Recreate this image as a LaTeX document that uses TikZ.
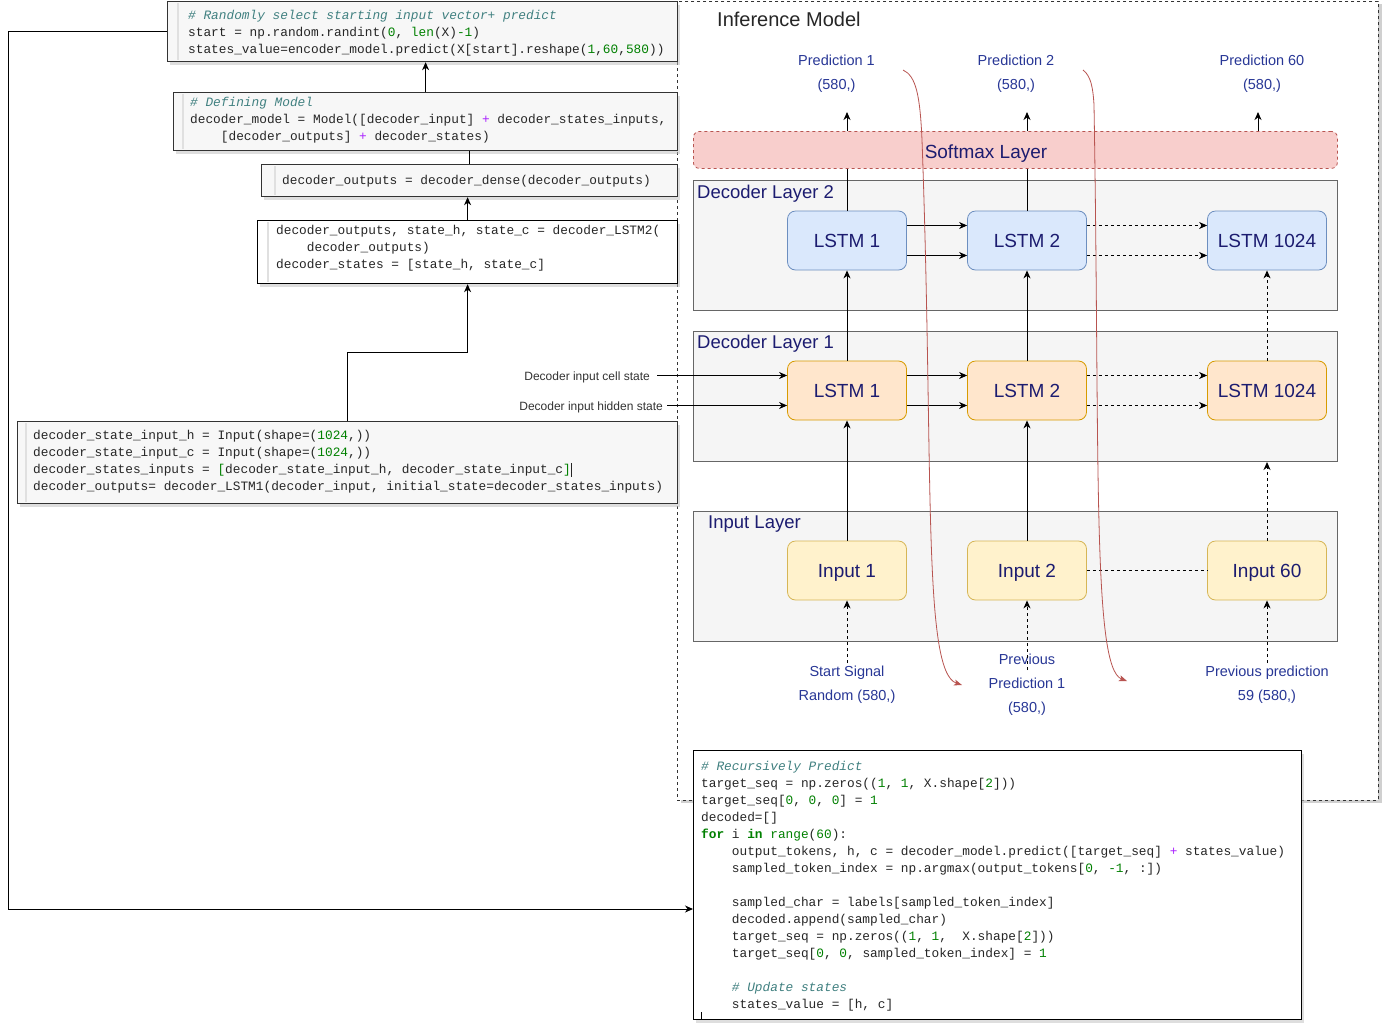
\documentclass[tikz,border=0pt]{standalone}
\usepackage{fontspec}
\setmainfont{Liberation Sans}
\newfontfamily\codefont{Liberation Mono}
\usetikzlibrary{arrows.meta,shadows}
\definecolor{navy}{RGB}{28,28,112}
\definecolor{predblue}{RGB}{40,55,150}
\definecolor{softfill}{HTML}{F8CECC}
\definecolor{softdraw}{HTML}{B85450}
\definecolor{layerfill}{HTML}{F5F5F5}
\definecolor{layerdraw}{HTML}{666666}
\definecolor{bluefill}{HTML}{DAE8FC}
\definecolor{bluedraw}{HTML}{6C8EBF}
\definecolor{orfill}{HTML}{FFE6CC}
\definecolor{ordraw}{HTML}{D79B00}
\definecolor{yelfill}{HTML}{FFF2CC}
\definecolor{yeldraw}{HTML}{D6B656}
\definecolor{cmt}{HTML}{408080}
\definecolor{numc}{HTML}{008000}
\definecolor{opc}{HTML}{AA22FF}
\definecolor{codebg}{HTML}{F7F7F7}
\newcommand\cmnt[1]{\textcolor{cmt}{\itshape #1}}
\newcommand\numc[1]{\textcolor{numc}{#1}}
\newcommand\kwb[1]{\textcolor{numc}{\bfseries #1}}
\newcommand\plusop{\textcolor{opc}{+}}
\newcommand\indt{\phantom{xxxx}}
\tikzset{
 arr/.style={-{Stealth[length=8pt,width=7pt,inset=2.5pt]}, line width=1pt, draw=black},
 plainln/.style={line width=1pt, draw=black},
 dashln/.style={dash pattern=on 3pt off 3pt},
 layerbox/.style={draw=layerdraw, fill=layerfill, line width=1pt, anchor=north west, minimum width=644pt, minimum height=130pt, inner sep=0},
 cell/.style={rounded corners=8pt, line width=0.8pt, minimum width=119pt, minimum height=59pt, inner sep=0, font=\fontsize{19}{22}\selectfont, text=navy, text depth=0pt},
 bcell/.style={cell, draw=bluedraw, fill=bluefill},
 ocell/.style={cell, draw=ordraw, fill=orfill},
 ycell/.style={cell, draw=yeldraw, fill=yelfill},
 laylbl/.style={anchor=base west, inner sep=0, text=navy, font=\fontsize{18.5}{22}\selectfont},
 predlbl/.style={anchor=base, align=center, inner sep=0, text=predblue, font=\fontsize{14.5}{24}\selectfont},
 sidelbl/.style={anchor=base east, inner sep=0, text=black!80, font=\fontsize{12}{14}\selectfont},
 codebox/.style={draw=black!80, line width=1.2pt, anchor=north west, inner sep=0, drop shadow={shadow xshift=2pt, shadow yshift=-3pt, fill=black!25, opacity=0.5}},
 codetxt/.style={anchor=north west, inner sep=0, align=left, font=\codefont\fontsize{12.8}{17}\selectfont, text=black!85},
 gutter/.style={draw=black!12, line width=1.5pt},
 redarr/.style={draw=softdraw, line width=0.8pt, -{Stealth[length=8pt,width=6pt,inset=2pt]}},
}
\begin{document}
\begin{tikzpicture}[x=1pt,y=-1pt]
\fill[white] (0,0) rectangle (1384,1026);
\useasboundingbox (0,0) rectangle (1384,1026);

% Inference model frame
\node[draw=black!80, dashln, line width=0.8pt, fill=white, anchor=north west, minimum width=701pt, minimum height=799pt, inner sep=0, drop shadow={shadow xshift=4pt, shadow yshift=-3pt, fill=black!30, opacity=0.6}] (inf) at (677,1) {};
\node[anchor=base west, inner sep=0, font=\fontsize{20}{24}\selectfont, text=black!85] (inftitle) at (717,26) {Inference Model};

% softmax
\node[draw=softdraw, fill=softfill, dashln, rounded corners=6pt, line width=0.8pt, anchor=north west, minimum width=644pt, minimum height=37pt, inner sep=0] (soft) at (693,131) {};
\node[anchor=base, inner sep=0, text=navy, font=\fontsize{19}{22}\selectfont] (softlbl) at (986,158) {Softmax Layer};

% layers
\node[layerbox] (L2) at (693,180) {};
\node[layerbox] (L1) at (693,331) {};
\node[layerbox] (L0) at (693,511) {};
\node[laylbl] (L2lbl) at (697,198) {Decoder Layer 2};
\node[laylbl] (L1lbl) at (697,348) {Decoder Layer 1};
\node[laylbl] (L0lbl) at (708,528) {Input Layer};

% cells
\node[bcell] (b1) at (847,240.5) {LSTM 1};
\node[bcell] (b2) at (1027,240.5) {LSTM 2};
\node[bcell] (b3) at (1267,240.5) {LSTM 1024};
\node[ocell] (o1) at (847,390.5) {LSTM 1};
\node[ocell] (o2) at (1027,390.5) {LSTM 2};
\node[ocell] (o3) at (1267,390.5) {LSTM 1024};
\node[ycell] (i1) at (847,570.5) {Input 1};
\node[ycell] (i2) at (1027,570.5) {Input 2};
\node[ycell] (i3) at (1267,570.5) {Input 60};

% horizontal connections
\draw[arr] ([yshift=15pt]b1.east) -- ([yshift=15pt]b2.west);
\draw[arr] ([yshift=-15pt]b1.east) -- ([yshift=-15pt]b2.west);
\draw[arr,dashln] ([yshift=15pt]b2.east) -- ([yshift=15pt]b3.west);
\draw[arr,dashln] ([yshift=-15pt]b2.east) -- ([yshift=-15pt]b3.west);
\draw[arr] ([yshift=15pt]o1.east) -- ([yshift=15pt]o2.west);
\draw[arr] ([yshift=-15pt]o1.east) -- ([yshift=-15pt]o2.west);
\draw[arr,dashln] ([yshift=15pt]o2.east) -- ([yshift=15pt]o3.west);
\draw[arr,dashln] ([yshift=-15pt]o2.east) -- ([yshift=-15pt]o3.west);
\draw[plainln,dashln] (i2.east) -- (i3.west);

% vertical connections
\draw[arr] (i1) -- (o1);
\draw[arr] (i2) -- (o2);
\draw[arr,dashln] (i3.north) -- (i3.north |- L1.south);
\draw[arr] (o1) -- (b1);
\draw[arr] (o2) -- (b2);
\draw[arr,dashln] (o3) -- (b3);

% to predictions
\coordinate (t1) at (847,112);
\coordinate (t2) at (1027,112);
\coordinate (t3) at (1258,112);
\draw[plainln] (b1.north) -- (b1.north |- soft.south);
\draw[plainln] (b2.north) -- (b2.north |- soft.south);
\draw[arr] (t1 |- soft.north) -- (t1);
\draw[arr] (t2 |- soft.north) -- (t2);
\draw[arr] (t3 |- soft.north) -- (t3);

\node[predlbl] (p1) at (836.5,89.2) {Prediction 1\\(580,)};
\node[predlbl] (p2) at (1016,89.2) {Prediction 2\\(580,)};
\node[predlbl] (p3) at (1262,89.2) {Prediction 60\\(580,)};

% bottom labels
\node[predlbl] (ss) at (847,700.2) {Start Signal\\Random (580,)};
\node[predlbl] (pp1) at (1027,712.2) {Previous\\Prediction 1\\(580,)};
\node[predlbl] (pp59) at (1267,700.2) {Previous prediction\\59 (580,)};
\coordinate (ssx) at (847,663);
\coordinate (ppx) at (1027,670);
\coordinate (pp59x) at (1267,663);
\draw[arr,dashln] (ssx) -- (i1.south);
\draw[arr,dashln] (ppx) -- (i2.south);
\draw[arr,dashln] (pp59x) -- (i3.south);

% side labels
\node[sidelbl] (cs) at (650,380.3) {Decoder input cell state};
\node[sidelbl] (hs) at (663,410.3) {Decoder input hidden state};
\coordinate (csx) at (657,375.5);
\coordinate (hsx) at (667,405.5);
\draw[arr] (csx) -- (csx -| o1.west);
\draw[arr] (hsx) -- (hsx -| o1.west);

% red feedback curves
\coordinate (r1s) at (903,70);
\coordinate (r1e) at (962,685);
\coordinate (r2s) at (1083,70);
\coordinate (r2e) at (1127,681);
\draw[redarr] (r1s) .. controls (916,76) and (920,95) .. (922,140) .. controls (934,470) and (922,672) .. (r1e);
\draw[redarr] (r2s) .. controls (1091,76) and (1093,88) .. (1094,105) .. controls (1100,460) and (1092,668) .. (r2e);

% code boxes
\node[codebox, fill=codebg, minimum width=510pt, minimum height=60pt] (A) at (167,1) {};
\draw[gutter] ([xshift=11pt,yshift=-2pt]A.north west) -- ([xshift=11pt,yshift=2pt]A.south west);
\node[codetxt] (Atxt) at (188,7.6) {\strut\cmnt{\# Randomly select starting input vector+ predict}\\
start = np.random.randint(\numc{0}, \numc{len}(X)\numc{-1})\\
states\_value=encoder\_model.predict(X[start].reshape(\numc{1},\numc{60},\numc{580}))};

\node[codebox, fill=codebg, minimum width=504pt, minimum height=58pt] (B) at (173,92) {};
\draw[gutter] ([xshift=10pt,yshift=-2pt]B.north west) -- ([xshift=10pt,yshift=2pt]B.south west);
\node[codetxt] (Btxt) at (190,94.6) {\strut\cmnt{\# Defining Model}\\
decoder\_model = Model([decoder\_input] \plusop{} decoder\_states\_inputs,\\
\indt[decoder\_outputs] \plusop{} decoder\_states)};

\node[codebox, fill=codebg, minimum width=416pt, minimum height=32pt] (C) at (261,164) {};
\draw[gutter] ([xshift=14pt,yshift=-2pt]C.north west) -- ([xshift=14pt,yshift=2pt]C.south west);
\node[codetxt] (Ctxt) at (282,172.6) {\strut decoder\_outputs = decoder\_dense(decoder\_outputs)};

\node[codebox, draw=black, fill=white, minimum width=420pt, minimum height=63pt] (D) at (257,220) {};
\draw[gutter] ([xshift=11pt,yshift=-2pt]D.north west) -- ([xshift=11pt,yshift=2pt]D.south west);
\node[codetxt] (Dtxt) at (276,222.6) {\strut decoder\_outputs, state\_h, state\_c = decoder\_LSTM2(\\
\indt decoder\_outputs)\\
decoder\_states = [state\_h, state\_c]};

\node[codebox, fill=codebg, minimum width=660pt, minimum height=82pt] (E) at (17,421) {};
\draw[gutter] ([xshift=9pt,yshift=-2pt]E.north west) -- ([xshift=9pt,yshift=2pt]E.south west);
\node[codetxt] (Etxt) at (33,427.6) {\strut decoder\_state\_input\_h = Input(shape=(\numc{1024},))\\
decoder\_state\_input\_c = Input(shape=(\numc{1024},))\\
decoder\_states\_inputs = \numc{[}decoder\_state\_input\_h, decoder\_state\_input\_c\numc{]}\rule[-3pt]{0.8pt}{14pt}\\
decoder\_outputs= decoder\_LSTM1(decoder\_input, initial\_state=decoder\_states\_inputs)};

\node[codebox, draw=black, fill=white, minimum width=608pt, minimum height=269pt] (F) at (693,750) {};
\node[codetxt] (Ftxt) at (701,758.6) {\strut\cmnt{\# Recursively Predict}\\
target\_seq = np.zeros((\numc{1}, \numc{1}, X.shape[\numc{2}]))\\
target\_seq[\numc{0}, \numc{0}, \numc{0}] = \numc{1}\\
decoded=[]\\
\kwb{for} i \kwb{in} \numc{range}(\numc{60}):\\
\indt output\_tokens, h, c = decoder\_model.predict([target\_seq] \plusop{} states\_value)\\
\indt sampled\_token\_index = np.argmax(output\_tokens[\numc{0}, \numc{-1}, :])\\
\strut\\
\indt sampled\_char = labels[sampled\_token\_index]\\
\indt decoded.append(sampled\_char)\\
\indt target\_seq = np.zeros((\numc{1}, \numc{1},\ \ X.shape[\numc{2}]))\\
\indt target\_seq[\numc{0}, \numc{0}, sampled\_token\_index] = \numc{1}\\
\strut\\
\indt\cmnt{\# Update states}\\
\indt states\_value = [h, c]};
\draw[line width=0.8pt] ([xshift=8pt,yshift=1pt]F.south west) -- ++(0,7pt);

% left connectors
\coordinate (lp) at (8,909);
\draw[arr] (A.west) -| (lp) -- (lp -| F.west);
\coordinate (bend) at (347,352);
\draw[arr] (bend |- E.north) -- (bend) -| (D.south);
\draw[arr] (D.north) -- (D.north |- C.south);
\draw[plainln] (C.north) -- (C.north |- B.south);
\draw[arr] (B.north) -- (B.north |- A.south);
\end{tikzpicture}
\end{document}
